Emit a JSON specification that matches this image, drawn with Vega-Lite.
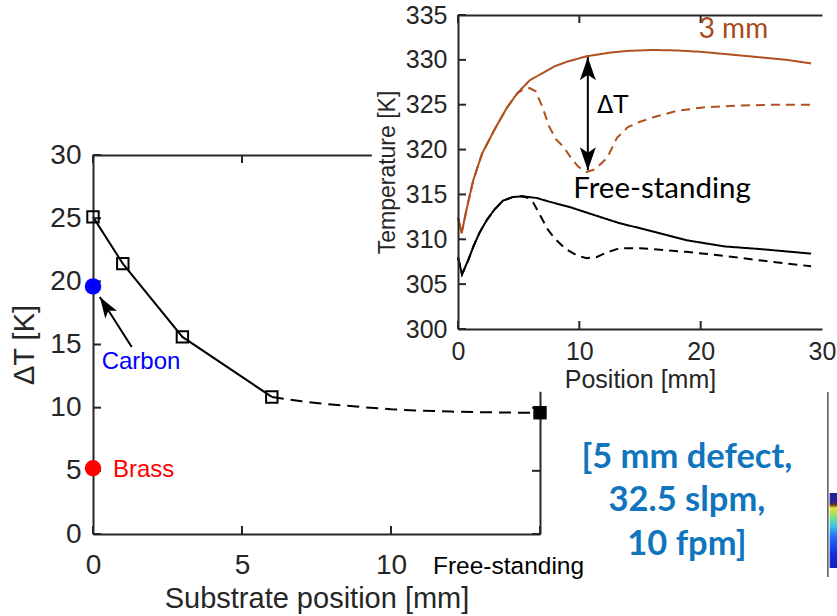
{
  "$schema": "https://vega.github.io/schema/vega-lite/v6.json",
  "width": 837,
  "height": 616,
  "padding": 0,
  "autosize": {"type": "none"},
  "background": "white",
  "config": {
    "view": {"stroke": null},
    "font": "Liberation Sans",
    "axis": {
      "grid": false,
      "domainColor": "#262626",
      "tickColor": "#262626",
      "labelColor": "#262626",
      "titleColor": "#262626",
      "domainWidth": 2,
      "tickWidth": 2,
      "titleFontWeight": "normal",
      "labelFont": "Liberation Sans",
      "titleFont": "Liberation Sans",
      "labelFlush": false,
      "labelOverlap": false
    }
  },
  "datasets": {
    "main": [
      {"pos": 0, "dT": 25.1},
      {"pos": 1, "dT": 21.4},
      {"pos": 3, "dT": 15.6},
      {"pos": 6, "dT": 10.85}
    ],
    "trend": [
      {"pos": 6, "dT": 10.85},
      {"pos": 7, "dT": 10.5},
      {"pos": 8, "dT": 10.25},
      {"pos": 9, "dT": 10.05},
      {"pos": 10, "dT": 9.87},
      {"pos": 11, "dT": 9.76},
      {"pos": 12, "dT": 9.69},
      {"pos": 13, "dT": 9.64},
      {"pos": 14, "dT": 9.61},
      {"pos": 15, "dT": 9.6}
    ],
    "free": [{"pos": 15, "dT": 9.6}],
    "subs": [
      {"name": "Carbon", "pos": 0, "dT": 19.6},
      {"name": "Brass", "pos": 0, "dT": 5.2}
    ],
    "subLabels": [
      {"name": "Carbon", "pos": 0.29, "dT": 13.6},
      {"name": "Brass", "pos": 0.67, "dT": 5.1}
    ],
    "arrow": [{"pos": 1.3, "dT": 14.8, "pos2": 0.23, "dT2": 18.76}],
    "mainXTicks": [{"v": 0}, {"v": 5}, {"v": 10}, {"v": 15}],
    "mainYTicks": [{"v": 0}, {"v": 5}, {"v": 10}, {"v": 15}, {"v": 20}, {"v": 25}, {"v": 30}],
    "insetXTicks": [{"v": 0}, {"v": 10}, {"v": 20}],
    "insetYTicks": [{"v": 300}, {"v": 305}, {"v": 310}, {"v": 315}, {"v": 320}, {"v": 325}, {"v": 330}, {"v": 335}],
    "profiles": [
      {"case": "3 mm solid", "x": 0, "T": 312.4},
      {"case": "3 mm solid", "x": 0.3, "T": 310.7},
      {"case": "3 mm solid", "x": 0.7, "T": 313.3},
      {"case": "3 mm solid", "x": 1.26, "T": 316.6},
      {"case": "3 mm solid", "x": 2, "T": 319.6},
      {"case": "3 mm solid", "x": 3, "T": 322.2},
      {"case": "3 mm solid", "x": 4, "T": 324.6},
      {"case": "3 mm solid", "x": 4.9, "T": 326.3},
      {"case": "3 mm solid", "x": 5.9, "T": 327.7},
      {"case": "3 mm solid", "x": 6.8, "T": 328.4},
      {"case": "3 mm solid", "x": 8, "T": 329.3},
      {"case": "3 mm solid", "x": 9, "T": 329.8},
      {"case": "3 mm solid", "x": 10.6, "T": 330.4},
      {"case": "3 mm solid", "x": 12.5, "T": 330.8},
      {"case": "3 mm solid", "x": 14, "T": 331.0},
      {"case": "3 mm solid", "x": 16, "T": 331.1},
      {"case": "3 mm solid", "x": 18, "T": 331.05},
      {"case": "3 mm solid", "x": 20, "T": 330.9},
      {"case": "3 mm solid", "x": 21.6, "T": 330.7},
      {"case": "3 mm solid", "x": 24, "T": 330.4},
      {"case": "3 mm solid", "x": 27.1, "T": 330.0},
      {"case": "3 mm solid", "x": 29.1, "T": 329.6},
      {"case": "3 mm dashed", "x": 0, "T": 312.4},
      {"case": "3 mm dashed", "x": 0.3, "T": 310.7},
      {"case": "3 mm dashed", "x": 0.7, "T": 313.3},
      {"case": "3 mm dashed", "x": 1.26, "T": 316.6},
      {"case": "3 mm dashed", "x": 2, "T": 319.6},
      {"case": "3 mm dashed", "x": 3, "T": 322.2},
      {"case": "3 mm dashed", "x": 4, "T": 324.6},
      {"case": "3 mm dashed", "x": 4.9, "T": 326.3},
      {"case": "3 mm dashed", "x": 5.5, "T": 326.8},
      {"case": "3 mm dashed", "x": 5.9, "T": 326.85},
      {"case": "3 mm dashed", "x": 6.4, "T": 326.5},
      {"case": "3 mm dashed", "x": 7, "T": 324.6},
      {"case": "3 mm dashed", "x": 7.5, "T": 322.6},
      {"case": "3 mm dashed", "x": 8.1, "T": 321.1},
      {"case": "3 mm dashed", "x": 8.7, "T": 320.3},
      {"case": "3 mm dashed", "x": 9.3, "T": 319.1},
      {"case": "3 mm dashed", "x": 9.9, "T": 318.1},
      {"case": "3 mm dashed", "x": 10.6, "T": 317.5},
      {"case": "3 mm dashed", "x": 11.3, "T": 317.8},
      {"case": "3 mm dashed", "x": 12.3, "T": 319.1},
      {"case": "3 mm dashed", "x": 13.1, "T": 321.3},
      {"case": "3 mm dashed", "x": 14, "T": 322.5},
      {"case": "3 mm dashed", "x": 15, "T": 323.1},
      {"case": "3 mm dashed", "x": 16.1, "T": 323.6},
      {"case": "3 mm dashed", "x": 18, "T": 324.3},
      {"case": "3 mm dashed", "x": 20.2, "T": 324.7},
      {"case": "3 mm dashed", "x": 23, "T": 324.9},
      {"case": "3 mm dashed", "x": 26, "T": 325.0},
      {"case": "3 mm dashed", "x": 29.1, "T": 325.0},
      {"case": "free solid", "x": 0, "T": 308.0},
      {"case": "free solid", "x": 0.33, "T": 306.1},
      {"case": "free solid", "x": 0.85, "T": 307.7},
      {"case": "free solid", "x": 1.3, "T": 309.3},
      {"case": "free solid", "x": 1.8, "T": 310.8},
      {"case": "free solid", "x": 2.4, "T": 312.2},
      {"case": "free solid", "x": 3, "T": 313.3},
      {"case": "free solid", "x": 3.7, "T": 314.3},
      {"case": "free solid", "x": 4.5, "T": 314.7},
      {"case": "free solid", "x": 5.3, "T": 314.8},
      {"case": "free solid", "x": 6.5, "T": 314.6},
      {"case": "free solid", "x": 7.5, "T": 314.2},
      {"case": "free solid", "x": 9.2, "T": 313.6},
      {"case": "free solid", "x": 11, "T": 312.8},
      {"case": "free solid", "x": 13.3, "T": 311.8},
      {"case": "free solid", "x": 16, "T": 310.9},
      {"case": "free solid", "x": 18.8, "T": 309.9},
      {"case": "free solid", "x": 22, "T": 309.2},
      {"case": "free solid", "x": 25, "T": 308.9},
      {"case": "free solid", "x": 29.1, "T": 308.4},
      {"case": "free dashed", "x": 0, "T": 308.0},
      {"case": "free dashed", "x": 0.33, "T": 306.1},
      {"case": "free dashed", "x": 0.85, "T": 307.7},
      {"case": "free dashed", "x": 1.3, "T": 309.3},
      {"case": "free dashed", "x": 1.8, "T": 310.8},
      {"case": "free dashed", "x": 2.4, "T": 312.2},
      {"case": "free dashed", "x": 3, "T": 313.3},
      {"case": "free dashed", "x": 3.7, "T": 314.3},
      {"case": "free dashed", "x": 4.5, "T": 314.7},
      {"case": "free dashed", "x": 5.3, "T": 314.8},
      {"case": "free dashed", "x": 5.8, "T": 314.6},
      {"case": "free dashed", "x": 6.2, "T": 314.1},
      {"case": "free dashed", "x": 6.8, "T": 312.6},
      {"case": "free dashed", "x": 7.4, "T": 311.1},
      {"case": "free dashed", "x": 7.9, "T": 310.2},
      {"case": "free dashed", "x": 8.8, "T": 309.0},
      {"case": "free dashed", "x": 9.8, "T": 308.2},
      {"case": "free dashed", "x": 10.6, "T": 307.9},
      {"case": "free dashed", "x": 11.4, "T": 308.0},
      {"case": "free dashed", "x": 12.2, "T": 308.5},
      {"case": "free dashed", "x": 13.3, "T": 309.0},
      {"case": "free dashed", "x": 15, "T": 309.0},
      {"case": "free dashed", "x": 17, "T": 308.8},
      {"case": "free dashed", "x": 18.8, "T": 308.6},
      {"case": "free dashed", "x": 21, "T": 308.3},
      {"case": "free dashed", "x": 24, "T": 307.8},
      {"case": "free dashed", "x": 27, "T": 307.3},
      {"case": "free dashed", "x": 29.1, "T": 307.0}
    ],
    "dtArrow": [{"x": 10.7, "T": 317.7, "T2": 330.3}],
    "dtHeads": [
      {"x": 10.7, "T": 330.3, "dir": 0},
      {"x": 10.7, "T": 317.7, "dir": 180}
    ],
    "sizeText": [{"label": "3 mm", "x": 22.7, "T": 332.4}],
    "freeText": [{"label": "Free-standing", "x": 9.5, "T": 314.6}],
    "dtText": [{"label": "ΔT", "x": 11.46, "T": 324.1}],
    "note": [{"pos": 19.93, "dT": 5.23, "text": ["[5 mm defect,", "32.5 slpm,", "10 fpm]"]}]
  },
  "layer": [
    {
      "layer": [
        {
          "data": {"name": "main"},
          "mark": {"type": "line", "color": "#000000", "strokeWidth": 2},
          "encoding": {
            "x": {
              "field": "pos", "type": "quantitative",
              "scale": {"domain": [0, 15], "range": [93, 540], "nice": false, "zero": false},
              "axis": {
                "orient": "bottom", "offset": -82, "values": [0, 5, 10, 15],
                "ticks": false,
                "labelFontSize": {"expr": "datum.value == 15 ? 24.5 : 28"},
                "labelExpr": "datum.value == 15 ? 'Free-standing' : datum.label",
                "labelOffset": {"expr": "datum.value == 15 ? -32 : 0"},
                "labelColor": {"expr": "datum.value == 15 ? '#000000' : '#262626'"},
                "labelBaseline": "alphabetic",
                "labelPadding": 39,
                "title": "Substrate position [mm]", "titleFontSize": 29, "titlePadding": 5,
                "zindex": 0
              }
            },
            "y": {
              "field": "dT", "type": "quantitative",
              "scale": {"domain": [0, 30], "range": [534, 155], "nice": false, "zero": false},
              "axis": {
                "orient": "left", "offset": -93, "values": [0, 5, 10, 15, 20, 25, 30],
                "ticks": false,
                "labelFontSize": 28, "labelPadding": 12,
                "title": "ΔT [K]", "titleFontSize": 29, "titlePadding": 10,
                "zindex": 0
              }
            }
          }
        },
        {
          "data": {"name": "trend"},
          "mark": {"type": "line", "color": "#000000", "strokeWidth": 2, "strokeDash": [12, 7]},
          "encoding": {
            "x": {
              "field": "pos", "type": "quantitative",
              "scale": {"domain": [0, 15], "range": [93, 540], "nice": false, "zero": false},
              "axis": {"orient": "top", "offset": -155, "ticks": false, "labels": false, "title": null, "zindex": 0}
            },
            "y": {
              "field": "dT", "type": "quantitative",
              "scale": {"domain": [0, 30], "range": [534, 155], "nice": false, "zero": false},
              "axis": {"orient": "right", "offset": -297, "ticks": false, "labels": false, "title": null, "zindex": 0}
            }
          }
        },
        {
          "data": {"name": "mainXTicks"},
          "mark": {"type": "tick", "orient": "vertical", "size": 8, "thickness": 2, "color": "#262626", "yOffset": -4, "opacity": 1},
          "encoding": {
            "x": {"field": "v", "type": "quantitative", "axis": null},
            "y": {"datum": 0, "type": "quantitative", "axis": null}
          }
        },
        {
          "data": {"name": "mainXTicks"},
          "mark": {"type": "tick", "orient": "vertical", "size": 8, "thickness": 2, "color": "#262626", "yOffset": 4, "opacity": 1},
          "encoding": {
            "x": {"field": "v", "type": "quantitative", "axis": null},
            "y": {"datum": 30, "type": "quantitative", "axis": null}
          }
        },
        {
          "data": {"name": "mainYTicks"},
          "mark": {"type": "tick", "orient": "horizontal", "size": 8, "thickness": 2, "color": "#262626", "xOffset": 4, "opacity": 1},
          "encoding": {
            "y": {"field": "v", "type": "quantitative", "axis": null},
            "x": {"datum": 0, "type": "quantitative", "axis": null}
          }
        },
        {
          "data": {"name": "mainYTicks"},
          "mark": {"type": "tick", "orient": "horizontal", "size": 8, "thickness": 2, "color": "#262626", "xOffset": -4, "opacity": 1},
          "encoding": {
            "y": {"field": "v", "type": "quantitative", "axis": null},
            "x": {"datum": 15, "type": "quantitative", "axis": null}
          }
        },
        {
          "data": {"name": "main"},
          "mark": {"type": "point", "shape": "square", "filled": false, "stroke": "#000000", "strokeWidth": 2, "size": 130, "opacity": 1},
          "encoding": {
            "x": {"field": "pos", "type": "quantitative", "axis": null},
            "y": {"field": "dT", "type": "quantitative", "axis": null}
          }
        },
        {
          "data": {"name": "free"},
          "mark": {"type": "point", "shape": "square", "filled": true, "color": "#000000", "size": 180, "opacity": 1},
          "encoding": {
            "x": {"field": "pos", "type": "quantitative", "axis": null},
            "y": {"field": "dT", "type": "quantitative", "axis": null}
          }
        },
        {
          "data": {"name": "subs"},
          "mark": {"type": "circle", "size": 270, "opacity": 1},
          "encoding": {
            "x": {"field": "pos", "type": "quantitative", "axis": null},
            "y": {"field": "dT", "type": "quantitative", "axis": null},
            "color": {"field": "name", "type": "nominal", "scale": {"domain": ["Carbon", "Brass"], "range": ["#0000ff", "#ff0000"]}, "legend": null}
          }
        },
        {
          "data": {"name": "subLabels"},
          "mark": {"type": "text", "align": "left", "baseline": "middle", "fontSize": 24, "font": "Liberation Sans"},
          "encoding": {
            "x": {"field": "pos", "type": "quantitative", "axis": null},
            "y": {"field": "dT", "type": "quantitative", "axis": null},
            "text": {"field": "name"},
            "color": {"field": "name", "type": "nominal", "scale": {"domain": ["Carbon", "Brass"], "range": ["#0000ff", "#ff0000"]}, "legend": null}
          }
        },
        {
          "data": {"name": "arrow"},
          "mark": {"type": "rule", "color": "#000000", "strokeWidth": 2},
          "encoding": {
            "x": {"field": "pos", "type": "quantitative", "axis": null},
            "y": {"field": "dT", "type": "quantitative", "axis": null},
            "x2": {"field": "pos2"},
            "y2": {"field": "dT2"}
          }
        },
        {
          "data": {"name": "arrow"},
          "mark": {"type": "point", "shape": "M0,0L0.7,2.1L0,1.6L-0.7,2.1Z", "filled": true, "color": "#000000", "size": 400, "angle": 327.4, "opacity": 1},
          "encoding": {
            "x": {"field": "pos2", "type": "quantitative", "axis": null},
            "y": {"field": "dT2", "type": "quantitative", "axis": null}
          }
        },
        {
          "data": {"name": "note"},
          "mark": {"type": "text", "align": "center", "baseline": "alphabetic", "font": "Lato", "fontWeight": "bold", "fontSize": 34.5, "lineHeight": 43.5, "color": "#0f75bc"},
          "encoding": {
            "x": {"field": "pos", "type": "quantitative", "axis": null},
            "y": {"field": "dT", "type": "quantitative", "axis": null},
            "text": {"field": "text"}
          }
        },
        {
          "data": {"values": [{}]},
          "mark": {"type": "rule", "color": "#555555", "strokeWidth": 1.5},
          "encoding": {
            "x": {"datum": 24.66, "type": "quantitative", "axis": null},
            "y": {"datum": 11.24, "type": "quantitative", "axis": null},
            "y2": {"datum": -3.4}
          }
        },
        {
          "data": {"values": [{}]},
          "mark": {
            "type": "rect",
            "opacity": 1,
            "color": {
              "gradient": "linear", "x1": 0, "y1": 0, "x2": 0, "y2": 1,
              "stops": [
                {"offset": 0, "color": "#22229a"},
                {"offset": 0.12, "color": "#22229a"},
                {"offset": 0.16, "color": "#6b3a1a"},
                {"offset": 0.2, "color": "#e8e23a"},
                {"offset": 0.32, "color": "#80e07a"},
                {"offset": 0.44, "color": "#35c8e8"},
                {"offset": 0.58, "color": "#2070ff"},
                {"offset": 0.8, "color": "#1030e0"},
                {"offset": 1, "color": "#1020c0"}
              ]
            }
          },
          "encoding": {
            "x": {"datum": 24.72, "type": "quantitative", "axis": null},
            "x2": {"datum": 25.3},
            "y": {"datum": 3.25, "type": "quantitative", "axis": null},
            "y2": {"datum": -2.69}
          }
        }
      ],
      "resolve": {"axis": {"x": "independent", "y": "independent"}}
    },
    {
      "layer": [
        {
          "data": {"values": [{}]},
          "mark": {"type": "rect", "color": "#ffffff", "opacity": 1},
          "encoding": {
            "x": {"datum": -7.1, "type": "quantitative", "scale": {"domain": [0, 30], "range": [458, 822], "nice": false, "zero": false}, "axis": null},
            "x2": {"datum": 30.9},
            "y": {"datum": 293, "type": "quantitative", "scale": {"domain": [300, 335], "range": [329, 15], "nice": false, "zero": false}, "axis": null},
            "y2": {"datum": 337}
          }
        },
        {
          "data": {"name": "profiles"},
          "mark": {"type": "line", "strokeWidth": 2},
          "encoding": {
            "x": {
              "field": "x", "type": "quantitative",
              "scale": {"domain": [0, 30], "range": [458, 822], "nice": false, "zero": false},
              "axis": {
                "orient": "bottom", "offset": -287, "values": [0, 10, 20, 30],
                "ticks": false,
                "labelFontSize": 25, "labelPadding": 10,
                "title": "Position [mm]", "titleFontSize": 25, "titlePadding": 3,
                "zindex": 1
              }
            },
            "y": {
              "field": "T", "type": "quantitative",
              "scale": {"domain": [300, 335], "range": [329, 15], "nice": false, "zero": false},
              "axis": {
                "orient": "left", "offset": -458, "values": [300, 305, 310, 315, 320, 325, 330, 335],
                "ticks": false,
                "labelFontSize": 25, "labelPadding": 11,
                "title": "Temperature [K]", "titleFontSize": 23, "titlePadding": 6,
                "zindex": 1
              }
            },
            "detail": {"field": "case"},
            "color": {"field": "case", "type": "nominal", "scale": {"domain": ["3 mm solid", "3 mm dashed", "free solid", "free dashed"], "range": ["#b0501e", "#b0501e", "#000000", "#000000"]}, "legend": null},
            "strokeDash": {"field": "case", "type": "nominal", "scale": {"domain": ["3 mm solid", "3 mm dashed", "free solid", "free dashed"], "range": [[1, 0], [9, 6], [1, 0], [9, 6]]}, "legend": null}
          }
        },
        {
          "data": {"name": "dtArrow"},
          "mark": {"type": "rule", "color": "#000000", "strokeWidth": 2},
          "encoding": {
            "x": {
              "field": "x", "type": "quantitative",
              "axis": {"orient": "top", "offset": -15, "ticks": false, "labels": false, "title": null, "zindex": 1}
            },
            "y": {"field": "T", "type": "quantitative", "axis": null},
            "y2": {"field": "T2"}
          }
        },
        {
          "data": {"name": "insetXTicks"},
          "mark": {"type": "tick", "orient": "vertical", "size": 8, "thickness": 2, "color": "#262626", "yOffset": -4, "opacity": 1},
          "encoding": {
            "x": {"field": "v", "type": "quantitative", "axis": null},
            "y": {"datum": 300, "type": "quantitative", "axis": null}
          }
        },
        {
          "data": {"name": "insetXTicks"},
          "mark": {"type": "tick", "orient": "vertical", "size": 8, "thickness": 2, "color": "#262626", "yOffset": 4, "opacity": 1},
          "encoding": {
            "x": {"field": "v", "type": "quantitative", "axis": null},
            "y": {"datum": 335, "type": "quantitative", "axis": null}
          }
        },
        {
          "data": {"name": "insetYTicks"},
          "mark": {"type": "tick", "orient": "horizontal", "size": 8, "thickness": 2, "color": "#262626", "xOffset": 4, "opacity": 1},
          "encoding": {
            "y": {"field": "v", "type": "quantitative", "axis": null},
            "x": {"datum": 0, "type": "quantitative", "axis": null}
          }
        },
        {
          "data": {"name": "dtHeads"},
          "mark": {"type": "point", "shape": "M0,0L0.8,2.3L0,1.75L-0.8,2.3Z", "filled": true, "color": "#000000", "size": 400, "opacity": 1},
          "encoding": {
            "x": {"field": "x", "type": "quantitative", "axis": null},
            "y": {"field": "T", "type": "quantitative", "axis": null},
            "angle": {"field": "dir", "type": "quantitative", "scale": null}
          }
        },
        {
          "data": {"name": "sizeText"},
          "mark": {"type": "text", "align": "center", "baseline": "alphabetic", "font": "Lato", "fontSize": 28, "color": "#a84a1a"},
          "encoding": {
            "x": {"field": "x", "type": "quantitative", "axis": null},
            "y": {"field": "T", "type": "quantitative", "axis": null},
            "text": {"field": "label"}
          }
        },
        {
          "data": {"name": "freeText"},
          "mark": {"type": "text", "align": "left", "baseline": "alphabetic", "font": "Lato", "fontSize": 29.5, "color": "#000000"},
          "encoding": {
            "x": {"field": "x", "type": "quantitative", "axis": null},
            "y": {"field": "T", "type": "quantitative", "axis": null},
            "text": {"field": "label"}
          }
        },
        {
          "data": {"name": "dtText"},
          "mark": {"type": "text", "align": "left", "baseline": "alphabetic", "font": "DejaVu Sans", "fontSize": 24, "color": "#000000"},
          "encoding": {
            "x": {"field": "x", "type": "quantitative", "axis": null},
            "y": {"field": "T", "type": "quantitative", "axis": null},
            "text": {"field": "label"}
          }
        }
      ],
      "resolve": {"axis": {"x": "independent", "y": "independent"}}
    }
  ],
  "resolve": {"scale": {"x": "independent", "y": "independent", "color": "independent", "strokeDash": "independent"}}
}
